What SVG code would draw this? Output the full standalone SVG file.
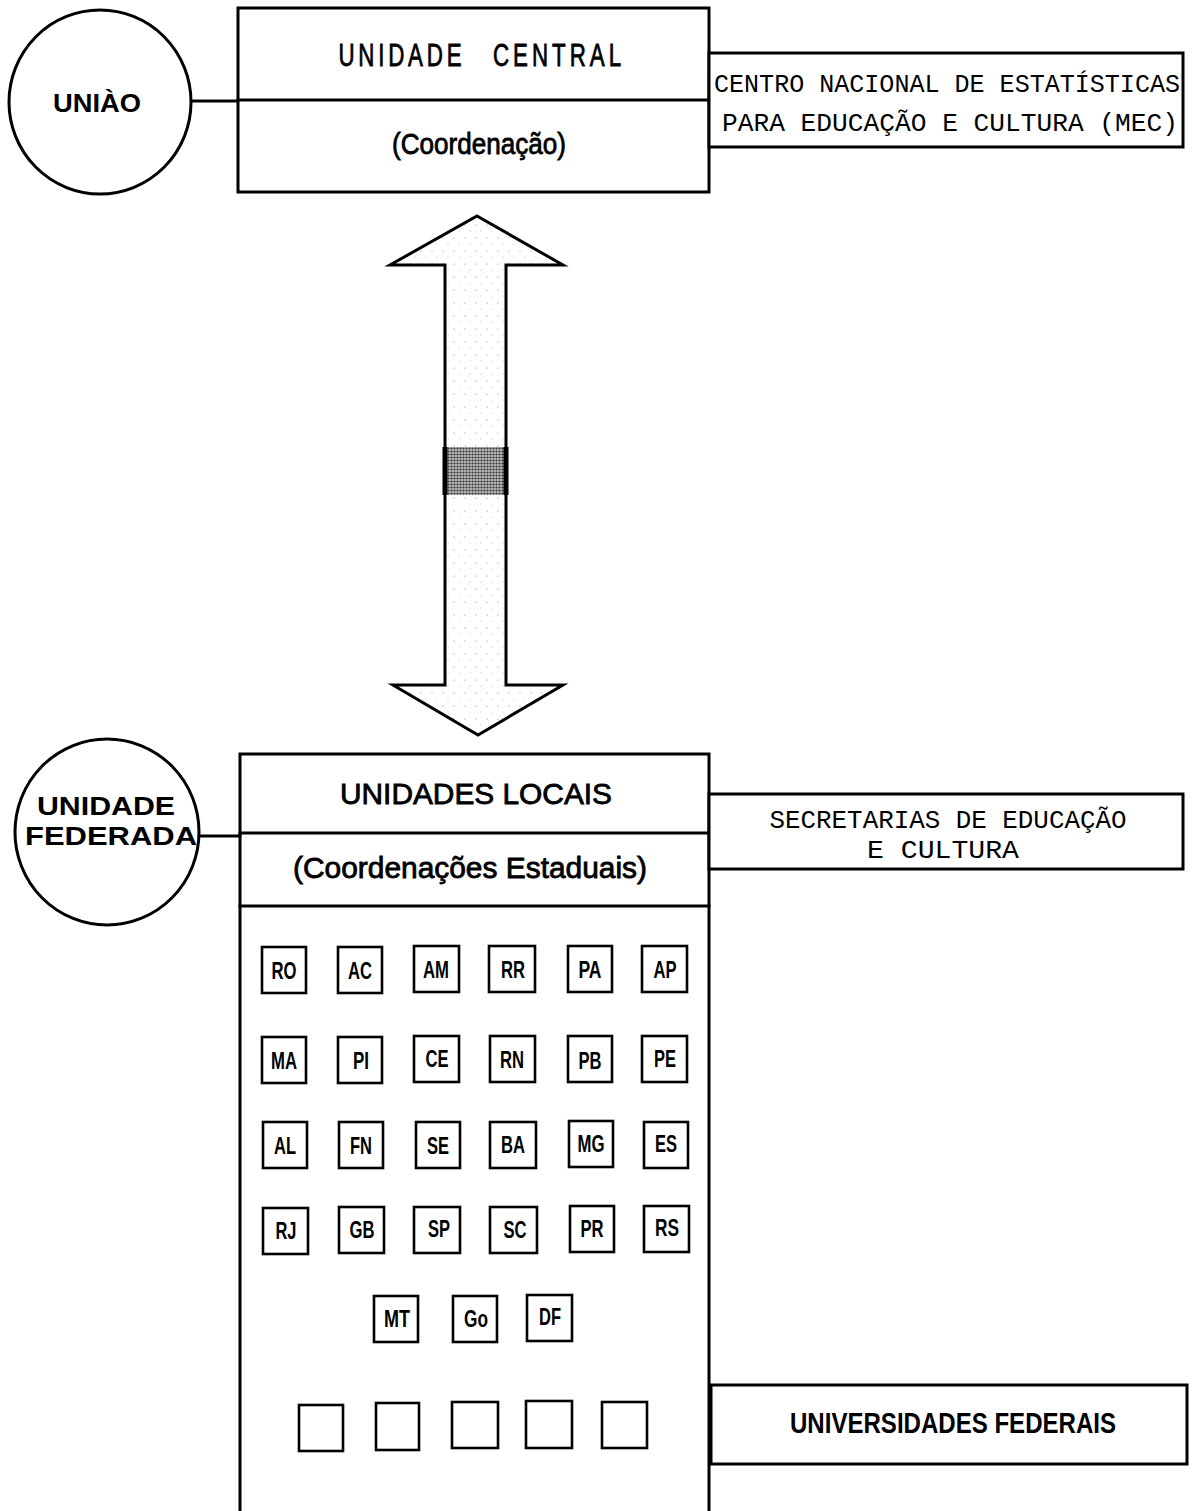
<svg xmlns="http://www.w3.org/2000/svg" width="1195" height="1511" viewBox="0 0 1195 1511">
<style>
.ln{fill:none;stroke:#000;stroke-width:3;stroke-linecap:square}
.bx{fill:#fff;stroke:#000;stroke-width:3}
.sb{fill:#fff;stroke:#000;stroke-width:2.6}
.hd{font-family:"Liberation Sans Narrow","Liberation Sans","DejaVu Sans Condensed",sans-serif;fill:#000;stroke:#000;stroke-width:0.8;text-anchor:middle}
.hb{font-family:"Liberation Sans Narrow","Liberation Sans","DejaVu Sans Condensed",sans-serif;font-weight:bold;fill:#000;text-anchor:middle}
.bd{font-family:"Liberation Sans","DejaVu Sans",sans-serif;font-weight:bold;fill:#000;text-anchor:middle}
.mono{font-family:"Liberation Mono","Courier New",monospace;fill:#000;text-anchor:middle}
.st{font-family:"Liberation Sans Narrow","Liberation Sans","DejaVu Sans Condensed",sans-serif;font-weight:bold;font-size:23px;fill:#000;text-anchor:middle}
</style>
<defs>
<pattern id="dots" width="3" height="3" patternUnits="userSpaceOnUse">
<rect width="3" height="3" fill="#bdbdbd"/>
<circle cx="1.5" cy="1.5" r="1.1" fill="#333"/>
</pattern>
<pattern id="light" width="11" height="13" patternUnits="userSpaceOnUse">
<rect width="11" height="13" fill="#fff"/>
<circle cx="3" cy="4" r="0.6" fill="#888"/>
<circle cx="8" cy="10" r="0.5" fill="#aaa"/>
</pattern>
</defs>

<g id="connectors">
<line class="ln" x1="192" y1="101" x2="238" y2="101"/>
<line class="ln" x1="200" y1="836" x2="240" y2="836"/>
<g id="double-arrow">
<polygon points="477,216 563,265 506,265 506,685 563,685 478,735 393,685 445,685 445,265 390,265" fill="url(#light)" stroke="#000" stroke-width="3" stroke-linejoin="miter"/>
<rect x="446" y="447" width="59" height="48" fill="url(#dots)"/>
<line x1="445" y1="447" x2="445" y2="495" stroke="#000" stroke-width="5"/>
<line x1="506" y1="447" x2="506" y2="495" stroke="#000" stroke-width="5"/>
</g>
</g>

<g id="uniao">
<ellipse class="bx" cx="100" cy="102" rx="91" ry="92"/>
<text class="bd" x="97" y="112" font-size="26" textLength="88" lengthAdjust="spacingAndGlyphs">UNIÀO</text>
</g>

<g id="unidade-central">
<rect class="bx" x="238" y="8" width="471" height="184"/>
<line class="ln" x1="238" y1="100" x2="709" y2="100"/>
<text class="hd" transform="translate(400,66) scale(0.72,1)" x="0" y="0" font-size="31" stroke-width="1" textLength="171" lengthAdjust="spacing">UNIDADE</text>
<text class="hd" transform="translate(557,66) scale(0.72,1)" x="0" y="0" font-size="31" stroke-width="1" textLength="178" lengthAdjust="spacing">CENTRAL</text>
<text class="hd" x="479" y="154" font-size="30" textLength="174" lengthAdjust="spacingAndGlyphs">(Coordenação)</text>
</g>

<g id="centro-nacional">
<rect class="bx" x="709" y="53" width="474" height="94"/>
<text class="mono" x="947" y="92" font-size="25" textLength="466" lengthAdjust="spacingAndGlyphs">CENTRO NACIONAL DE ESTATÍSTICAS</text>
<text class="mono" x="950" y="131" font-size="25" textLength="456" lengthAdjust="spacingAndGlyphs">PARA EDUCAÇÃO E CULTURA  (MEC)</text>
</g>

<g id="unidade-federada">
<ellipse class="bx" cx="107" cy="832" rx="92" ry="93"/>
<text class="bd" x="106" y="815" font-size="25" textLength="138" lengthAdjust="spacingAndGlyphs">UNIDADE</text>
<text class="bd" x="111" y="845" font-size="25" textLength="172" lengthAdjust="spacingAndGlyphs">FEDERADA</text>
</g>

<g id="unidades-locais">
<path class="ln" d="M240,1511 V754 H709 V1511"/>
<line class="ln" x1="240" y1="833" x2="709" y2="833"/>
<line class="ln" x1="240" y1="906" x2="709" y2="906"/>
<text class="hd" x="476" y="804" font-size="29" textLength="272" lengthAdjust="spacingAndGlyphs">UNIDADES LOCAIS</text>
<text class="hd" x="470" y="878" font-size="29" textLength="354" lengthAdjust="spacingAndGlyphs">(Coordenações  Estaduais)</text>
</g>

<g id="secretarias">
<rect class="bx" x="709" y="794" width="474" height="75"/>
<text class="mono" x="948" y="828" font-size="25" textLength="357" lengthAdjust="spacingAndGlyphs">SECRETARIAS DE EDUCAÇÃO</text>
<text class="mono" x="943" y="858" font-size="25" textLength="152" lengthAdjust="spacingAndGlyphs">E CULTURA</text>
</g>

<g id="state-RO"><rect class="sb" x="262" y="947" width="44" height="46"/><text class="st" x="284" y="979" textLength="25" lengthAdjust="spacingAndGlyphs">RO</text></g>
<g id="state-AC"><rect class="sb" x="338" y="947" width="44" height="46"/><text class="st" x="360" y="979" textLength="24" lengthAdjust="spacingAndGlyphs">AC</text></g>
<g id="state-AM"><rect class="sb" x="414" y="946" width="45" height="46"/><text class="st" x="436" y="978" textLength="26" lengthAdjust="spacingAndGlyphs">AM</text></g>
<g id="state-RR"><rect class="sb" x="489" y="946" width="46" height="46"/><text class="st" x="513" y="978" textLength="24" lengthAdjust="spacingAndGlyphs">RR</text></g>
<g id="state-PA"><rect class="sb" x="568" y="946" width="44" height="46"/><text class="st" x="590" y="978" textLength="23" lengthAdjust="spacingAndGlyphs">PA</text></g>
<g id="state-AP"><rect class="sb" x="642" y="946" width="45" height="46"/><text class="st" x="665" y="978" textLength="23" lengthAdjust="spacingAndGlyphs">AP</text></g>

<g id="state-MA"><rect class="sb" x="262" y="1037" width="44" height="46"/><text class="st" x="284" y="1069" textLength="26" lengthAdjust="spacingAndGlyphs">MA</text></g>
<g id="state-PI"><rect class="sb" x="338" y="1037" width="44" height="46"/><text class="st" x="361" y="1069" textLength="16" lengthAdjust="spacingAndGlyphs">PI</text></g>
<g id="state-CE"><rect class="sb" x="414" y="1036" width="45" height="46"/><text class="st" x="437" y="1067" textLength="23" lengthAdjust="spacingAndGlyphs">CE</text></g>
<g id="state-RN"><rect class="sb" x="490" y="1036" width="45" height="46"/><text class="st" x="512" y="1068" textLength="24" lengthAdjust="spacingAndGlyphs">RN</text></g>
<g id="state-PB"><rect class="sb" x="568" y="1036" width="44" height="46"/><text class="st" x="590" y="1069" textLength="23" lengthAdjust="spacingAndGlyphs">PB</text></g>
<g id="state-PE"><rect class="sb" x="642" y="1036" width="45" height="46"/><text class="st" x="665" y="1067" textLength="22" lengthAdjust="spacingAndGlyphs">PE</text></g>

<g id="state-AL"><rect class="sb" x="263" y="1122" width="44" height="46"/><text class="st" x="285" y="1154" textLength="22" lengthAdjust="spacingAndGlyphs">AL</text></g>
<g id="state-FN"><rect class="sb" x="339" y="1122" width="44" height="46"/><text class="st" x="361" y="1154" textLength="22" lengthAdjust="spacingAndGlyphs">FN</text></g>
<g id="state-SE"><rect class="sb" x="416" y="1122" width="44" height="46"/><text class="st" x="438" y="1154" textLength="22" lengthAdjust="spacingAndGlyphs">SE</text></g>
<g id="state-BA"><rect class="sb" x="490" y="1122" width="46" height="46"/><text class="st" x="513" y="1153" textLength="24" lengthAdjust="spacingAndGlyphs">BA</text></g>
<g id="state-MG"><rect class="sb" x="569" y="1121" width="44" height="46"/><text class="st" x="591" y="1152" textLength="27" lengthAdjust="spacingAndGlyphs">MG</text></g>
<g id="state-ES"><rect class="sb" x="644" y="1122" width="44" height="46"/><text class="st" x="666" y="1152" textLength="22" lengthAdjust="spacingAndGlyphs">ES</text></g>

<g id="state-RJ"><rect class="sb" x="263" y="1208" width="45" height="46"/><text class="st" x="286" y="1239" textLength="21" lengthAdjust="spacingAndGlyphs">RJ</text></g>
<g id="state-GB"><rect class="sb" x="339" y="1207" width="45" height="46"/><text class="st" x="362" y="1238" textLength="25" lengthAdjust="spacingAndGlyphs">GB</text></g>
<g id="state-SP"><rect class="sb" x="414" y="1207" width="46" height="46"/><text class="st" x="439" y="1237" textLength="22" lengthAdjust="spacingAndGlyphs">SP</text></g>
<g id="state-SC"><rect class="sb" x="490" y="1207" width="47" height="46"/><text class="st" x="515" y="1238" textLength="23" lengthAdjust="spacingAndGlyphs">SC</text></g>
<g id="state-PR"><rect class="sb" x="570" y="1206" width="44" height="46"/><text class="st" x="592" y="1237" textLength="23" lengthAdjust="spacingAndGlyphs">PR</text></g>
<g id="state-RS"><rect class="sb" x="644" y="1206" width="45" height="46"/><text class="st" x="667" y="1236" textLength="24" lengthAdjust="spacingAndGlyphs">RS</text></g>

<g id="state-MT"><rect class="sb" x="374" y="1296" width="44" height="46"/><text class="st" x="397" y="1327" textLength="26" lengthAdjust="spacingAndGlyphs">MT</text></g>
<g id="state-GO"><rect class="sb" x="453" y="1296" width="44" height="46"/><text class="st" x="476" y="1327" textLength="24" lengthAdjust="spacingAndGlyphs">Go</text></g>
<g id="state-DF"><rect class="sb" x="527" y="1295" width="45" height="46"/><text class="st" x="550" y="1325" textLength="22" lengthAdjust="spacingAndGlyphs">DF</text></g>

<g id="blank-1"><rect class="sb" x="299" y="1405" width="44" height="46"/></g>
<g id="blank-2"><rect class="sb" x="376" y="1403" width="43" height="47"/></g>
<g id="blank-3"><rect class="sb" x="452" y="1402" width="46" height="46"/></g>
<g id="blank-4"><rect class="sb" x="526" y="1401" width="46" height="47"/></g>
<g id="blank-5"><rect class="sb" x="602" y="1402" width="45" height="46"/></g>

<g id="universidades">
<rect class="bx" x="711" y="1385" width="476" height="79"/>
<text class="hb" x="953" y="1433" font-size="29" textLength="326" lengthAdjust="spacingAndGlyphs">UNIVERSIDADES  FEDERAIS</text>
</g>
</svg>
